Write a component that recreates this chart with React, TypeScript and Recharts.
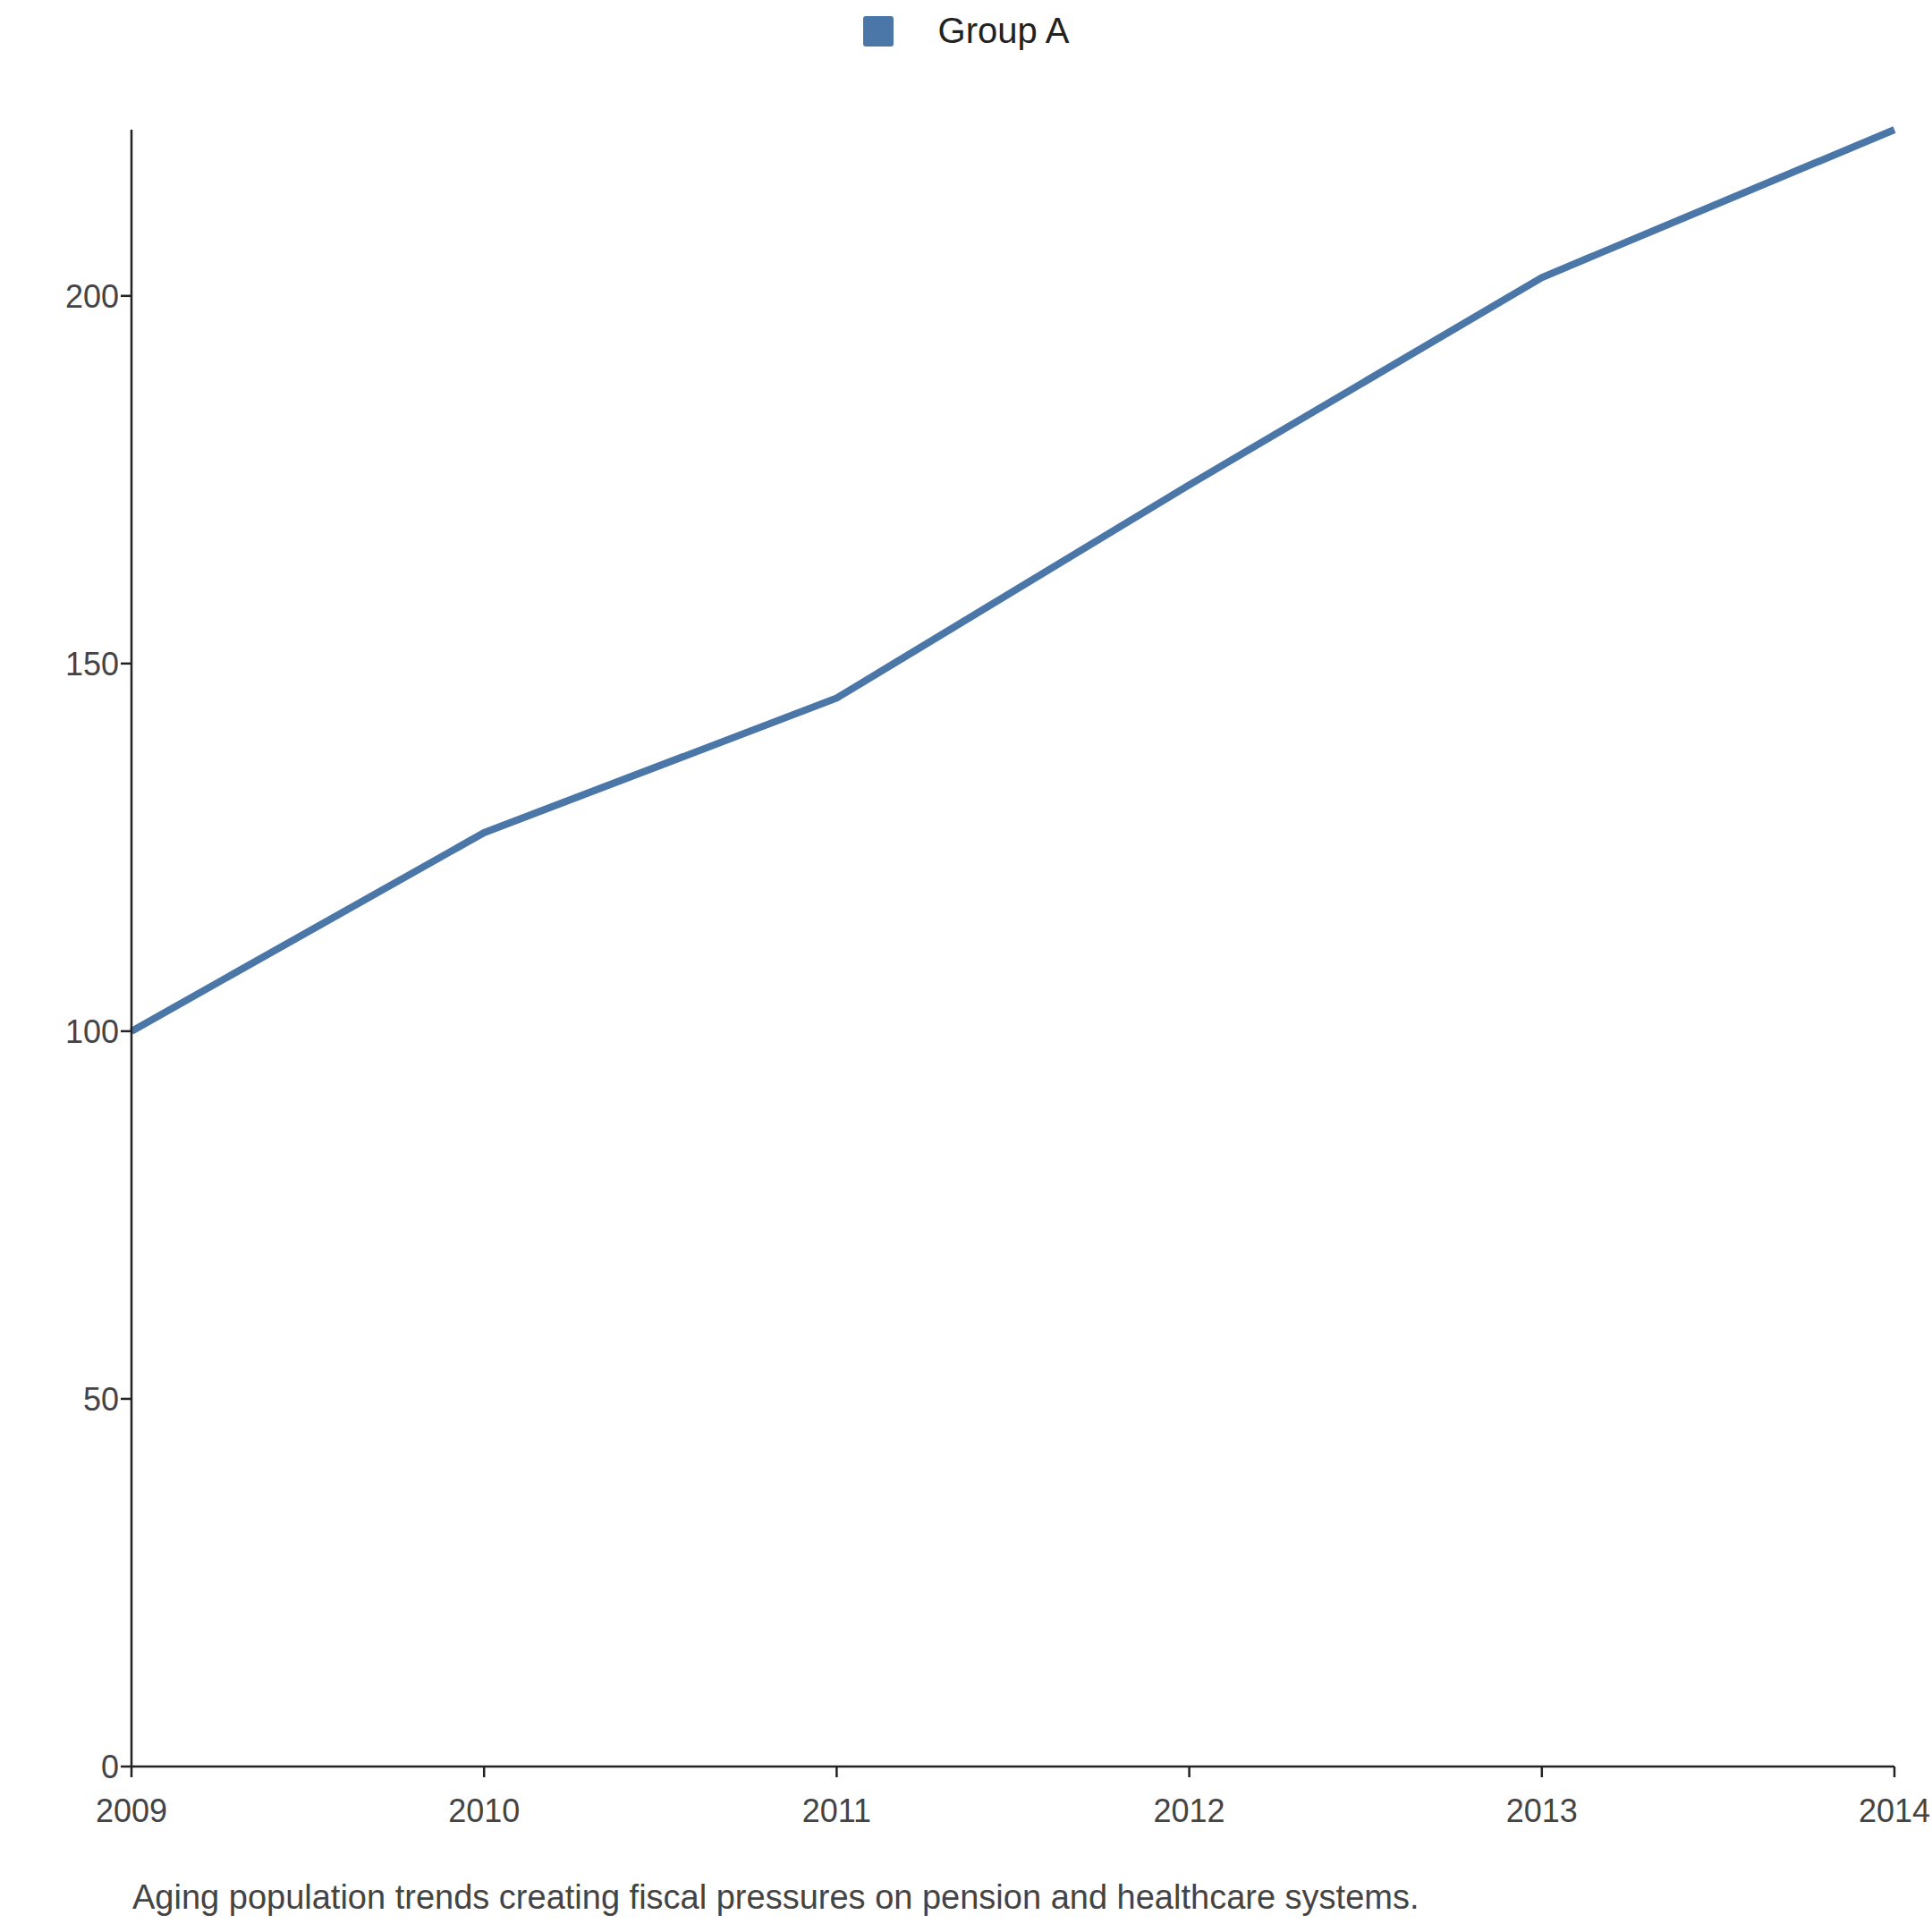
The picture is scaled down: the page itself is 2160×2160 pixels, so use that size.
import React from "react";
import { LineChart, Line, XAxis, YAxis, Legend } from "recharts";

const years = ["2009", "2010", "2011", "2012", "2013", "2014"];
const groupA = [100, 127, 145.3, 174.3, 202.5, 222.6];
const yTicks = [0, 50, 100, 150, 200];
const caption = "Aging population trends creating fiscal pressures on pension and healthcare systems.";

const data = years.map((y, i) => ({ year: y, a: groupA[i] }));

const LegendContent = () => (
  <div style={{ display: "flex", justifyContent: "center", alignItems: "center", fontFamily: "Liberation Sans, Arial, sans-serif", fontSize: 40, color: "#222" }}>
    <span style={{ display: "inline-block", width: 34, height: 34, background: "#4b76a8", borderRadius: 3, marginRight: 50 }} />
    Group A
  </div>
);

export default function App() {
  return (
    <div style={{ position: "absolute", left: 0, top: 0, width: 2160, height: 2160, background: "#fff", fontFamily: "Liberation Sans, Arial, sans-serif" }}>
      <LineChart width={2160} height={2160} data={data} margin={{ top: 100, right: 42, left: 0, bottom: 0 }}>
        <Legend verticalAlign="top" content={<LegendContent />} wrapperStyle={{ top: 12, left: 0, width: 2160 }} />
        <XAxis dataKey="year" height={185} tick={{ fill: "#444", fontSize: 36, dy: 22 }} tickSize={12} stroke="#222" strokeWidth={2.5} />
        <YAxis width={147} domain={[0, 222.6]} ticks={yTicks} tick={{ fill: "#444", fontSize: 36 }} tickSize={12} stroke="#222" strokeWidth={2.5} />
        <Line dataKey="a" stroke="#4b76a8" strokeWidth={8} dot={false} isAnimationActive={false} />
      </LineChart>
      <div style={{ position: "absolute", left: 148, top: 2100, fontSize: 38, color: "#444" }}>{caption}</div>
    </div>
  );
}
